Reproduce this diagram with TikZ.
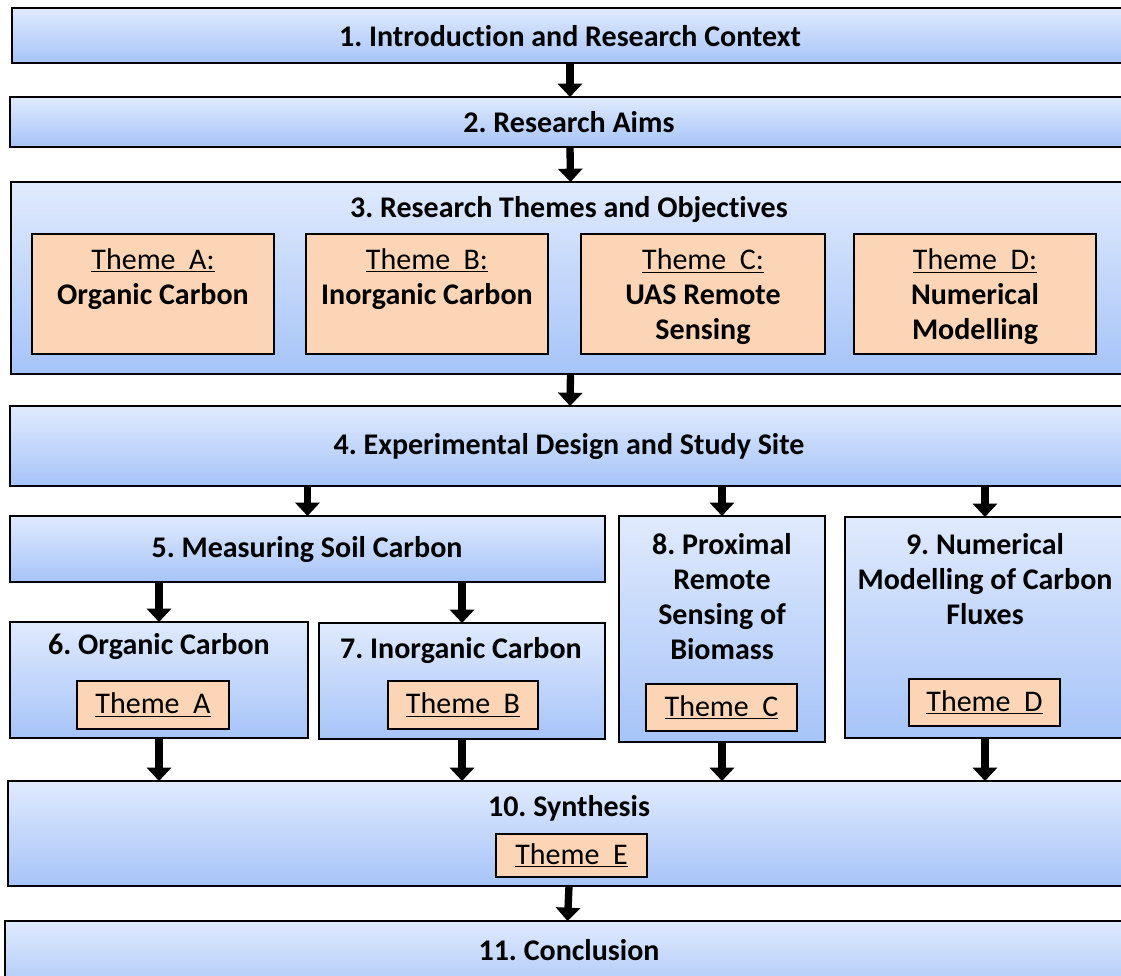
\documentclass[tikz,border=0pt]{standalone}
\usepackage{fontspec}
\setmainfont{Carlito}[Ligatures=NoCommon]
\usetikzlibrary{arrows.meta}
\usetikzlibrary{fit}
\frenchspacing

\definecolor{boxtop}{HTML}{E0EAFD}
\definecolor{boxbottom}{HTML}{A6C4F8}
\definecolor{themefill}{HTML}{FBD5B5}

\begin{document}
\begin{tikzpicture}[x=0.75pt, y=-0.75pt,
		chapter/.style={draw=black, line width=1.1pt, top color=boxtop, bottom color=boxbottom, inner sep=0pt, outer sep=0pt},
		theme/.style={draw=black, line width=1.1pt, fill=themefill, inner sep=0pt, outer sep=0pt},
		heading/.style={font=\fontsize{22.5}{26.25}\selectfont\bfseries, align=center, inner sep=0pt},
		themetext/.style={font=\fontsize{22.5}{26.25}\selectfont, align=center, inner sep=0pt},
		flow/.style={line width=5.5pt, -{Triangle[width=18pt, length=10pt]}}]
		\useasboundingbox (0,0) rectangle (1121,975);

		%chapter boxes, top to bottom, the wide ones run off the right edge
		\node[chapter, fit={(12,8) (1130,63)}] (c1) {};
		\node[heading] (t1) at (570,36) {1. Introduction and Research Context};
		\node[chapter, fit={(10,97) (1130,147)}] (c2) {};
		\node[heading] (t2) at (569,122) {2. Research Aims};
		\node[chapter, fit={(11,182) (1130,374)}] (c3) {};
		\node[heading] (t3) at (569,210) {3. Research Themes and Objectives};

		%themes inside chapter 3
		\node[theme, fit={(32,234) (274,354)}] (thA) {};
		\node[themetext] (lA) at (153,279) {\underline{Theme\hspace{.45em}A:}\\\textbf{Organic Carbon}};
		\node[theme, fit={(306,234) (548,354)}] (thB) {};
		\node[themetext] (lB) at (427,279) {\underline{Theme\hspace{.45em}B:}\\\textbf{Inorganic Carbon}};
		\node[theme, fit={(581,234) (825,354)}] (thC) {};
		\node[themetext] (lC) at (703,297) {\underline{Theme\hspace{.45em}C:}\\\textbf{UAS Remote}\\\textbf{Sensing}};
		\node[theme, fit={(854,234) (1096,354)}] (thD) {};
		\node[themetext] (lD) at (975,297) {\underline{Theme\hspace{.45em}D:}\\\textbf{Numerical}\\\textbf{Modelling}};

		\node[chapter, fit={(10,406) (1130,486)}] (c4) {};
		\node[heading] (t4) at (569,447) {4. Experimental Design and Study Site};

		%middle row
		\node[chapter, fit={(10,516) (605,582)}] (c5) {};
		\node[heading] (t5) at (307,550) {5. Measuring Soil Carbon};
		\node[chapter, fit={(10,622) (308,738)}] (c6) {};
		\node[heading] (t6) at (159,647) {6. Organic Carbon};
		\node[theme, fit={(77,681) (229,729)}] (sA) {};
		\node[themetext] (sAtext) at (sA) {\underline{Theme\hspace{.45em}A}};
		\node[chapter, fit={(319,623) (605,739)}] (c7) {};
		\node[heading] (t7) at (461,651) {7. Inorganic Carbon};
		\node[theme, fit={(388,681) (538,729)}] (sB) {};
		\node[themetext] (sBtext) at (sB) {\underline{Theme\hspace{.45em}B}};
		\node[chapter, fit={(619,516) (825,742)}] (c8) {};
		\node[heading] (t8) at (722,597) {8. Proximal\\Remote\\Sensing of\\Biomass};
		\node[theme, fit={(646,684) (797,731)}] (sC) {};
		\node[themetext] (sCtext) at (sC) {\underline{Theme\hspace{.45em}C}};
		\node[chapter, fit={(845,517) (1125,738)}] (c9) {};
		\node[heading] (t9) at (985,579) {9. Numerical\\Modelling of Carbon\\Fluxes};
		\node[theme, fit={(909,679) (1060,726)}] (sD) {};
		\node[themetext] (sDtext) at (sD) {\underline{Theme\hspace{.45em}D}};

		\node[chapter, fit={(8,781) (1130,886)}] (c10) {};
		\node[heading] (t10) at (569,808) {10. Synthesis};
		\node[theme, fit={(496,834) (647,877)}] (sE) {};
		\node[themetext] (sEtext) at (sE) {\underline{Theme\hspace{.45em}E}};
		\node[chapter, fit={(5,921) (1130,1000)}] (c11) {};
		\node[heading] (t11) at (569,950) {11. Conclusion};

		%arrows
		\draw[flow] (c1.south -| c2.north) -- (c2.north);
		\draw[flow] (c2.south) -- (c3.north);
		\draw[flow] (c3.south) -- (c4.north);
		\draw[flow] (c4.south -| c5.north) -- (c5.north);
		\draw[flow] (c4.south -| c8.north) -- (c8.north);
		\draw[flow] (c4.south -| c9.north) -- (c9.north);
		\draw[flow] (c5.south -| c6.north) -- (c6.north);
		\draw[flow] (c5.south -| c7.north) -- (c7.north);
		\draw[flow] (c6.south) -- (c6.south |- c10.north);
		\draw[flow] (c7.south) -- (c7.south |- c10.north);
		\draw[flow] (c8.south) -- (c8.south |- c10.north);
		\draw[flow] (c9.south) -- (c9.south |- c10.north);
		\draw[flow] (c10.south) -- (c11.north);
	\end{tikzpicture}
\end{document}
